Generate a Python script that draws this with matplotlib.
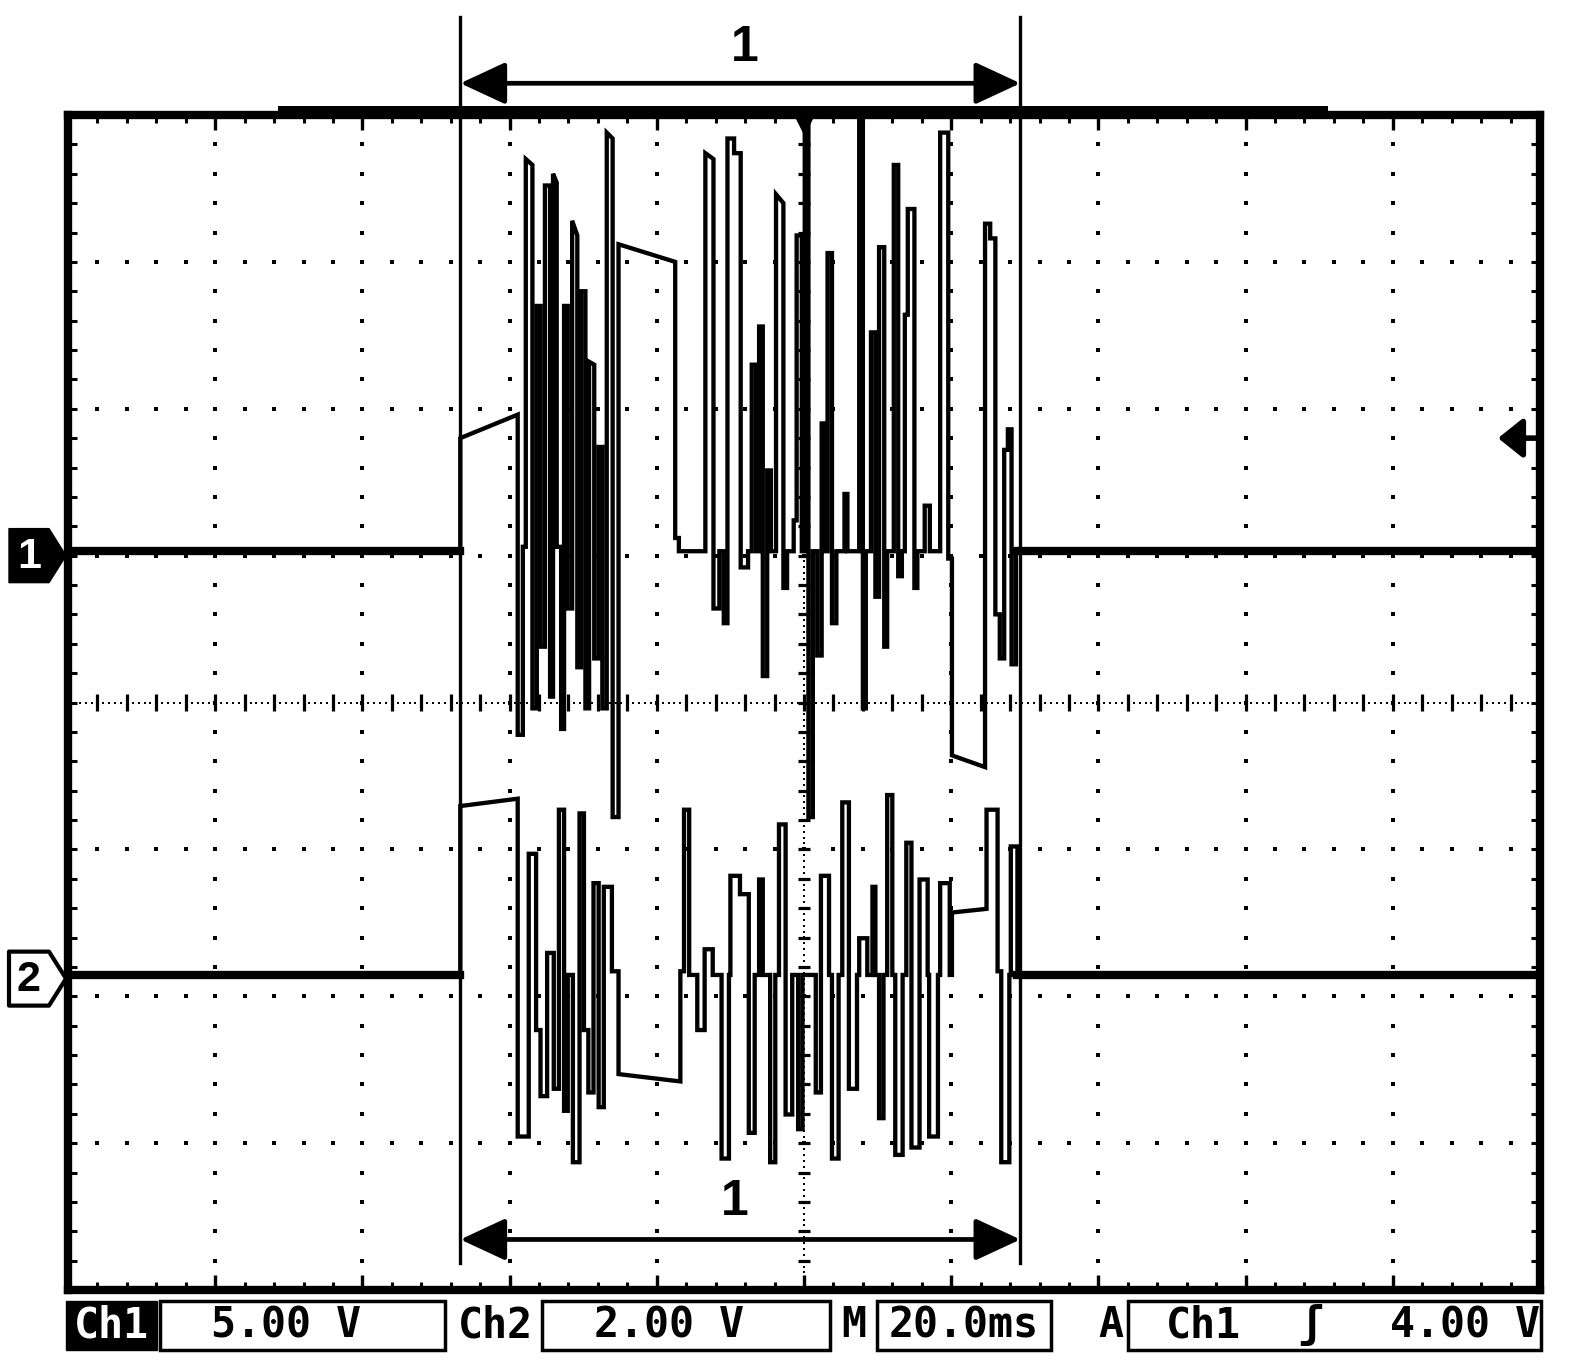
import matplotlib
matplotlib.use("Agg")
import matplotlib.pyplot as plt
import numpy as np
from matplotlib.patches import Rectangle, Polygon
from matplotlib.transforms import IdentityTransform, blended_transform_factory

time_per_div_ms = 20.0
ch1_volts_per_div = 5.0
ch2_volts_per_div = 2.0
ch1_position_div = 1.0
ch2_position_div = -1.88
cursor_times_ms = [53.3, 129.4]
trigger_time_ms = 100.0
trigger_level_v = 4.00

ch1_time_ms = [0.3, 53.3, 53.3, 61.1, 61.1, 61.8, 61.8, 62.2, 62.2, 63.1, 63.1, 63.7, 63.7, 64.2, 64.2,
               64.8, 64.8, 65.5, 65.5, 65.9, 65.9, 66.4, 66.4, 67.0, 67.0, 67.4, 67.4, 67.9, 67.9, 68.5,
               68.5, 69.2, 69.2, 69.7, 69.7, 70.3, 70.3, 70.8, 70.8, 71.5, 71.5, 72.1, 72.1, 72.6, 72.6,
               73.2, 73.2, 74.0, 74.0, 74.8, 74.8, 82.5, 82.5, 83.0, 83.0, 86.6, 86.6, 87.7, 87.7, 88.5,
               88.5, 89.1, 89.1, 89.6, 89.6, 90.5, 90.5, 91.4, 91.4, 92.4, 92.4, 92.9, 92.9, 93.5, 93.5,
               93.9, 93.9, 94.4, 94.4, 95.0, 95.0, 95.5, 95.5, 96.2, 96.2, 97.2, 97.2, 97.7, 97.7, 98.6,
               98.6, 99.0, 99.0, 99.7, 99.7, 100.1, 100.1, 100.6, 100.6, 101.2, 101.2, 101.8, 101.8, 102.4,
               102.4, 102.9, 102.9, 103.2, 103.2, 103.8, 103.8, 104.4, 104.4, 105.5, 105.5, 105.9, 105.9,
               107.5, 107.5, 108.0, 108.0, 108.4, 108.4, 109.1, 109.1, 109.7, 109.7, 110.2, 110.2, 110.9,
               110.9, 111.3, 111.3, 112.2, 112.2, 112.8, 112.8, 113.3, 113.3, 113.7, 113.7, 114.1, 114.1,
               115.0, 115.0, 115.4, 115.4, 116.4, 116.4, 117.1, 117.1, 118.5, 118.5, 119.6, 119.6, 120.1,
               120.1, 124.6, 124.6, 125.3, 125.3, 126.0, 126.0, 126.6, 126.6, 127.2, 127.2, 127.7, 127.7,
               128.2, 128.2, 128.8, 128.8, 199.7]
ch1_volts = [0.15, 0.15, 4.0, 4.8, -6.1, -6.1, 0.3, 0.3, 13.5, 13.3, -5.2, -5.2, 8.5, 8.5, -3.1,
             -3.1, 12.6, 12.6, -4.8, -4.8, 13.0, 12.7, 0.3, 0.3, -5.9, -5.9, 8.5, 8.5, -1.8, -1.8,
             11.4, 10.9, -3.8, -3.8, 9.0, 9.0, -5.2, -5.2, 6.6, 6.5, -3.5, -3.5, 3.7, 3.7, -5.2,
             -5.2, 14.4, 14.2, -8.9, -8.9, 10.6, 10.0, 0.6, 0.6, 0.15, 0.15, 13.7, 13.5, -1.8, -1.8,
             0.15, 0.15, -2.3, -2.3, 14.2, 14.2, 13.7, 13.7, -0.4, -0.4, 0.15, 0.15, 6.5, 6.5, 0.15,
             0.15, 7.8, 7.8, -4.1, -4.1, 2.9, 2.9, 0.15, 0.15, 12.3, 12.0, -1.1, -1.1, 0.15, 0.15,
             1.2, 1.2, 10.9, 10.9, 0.15, 0.15, 14.7, 14.7, -8.9, -8.9, 0.15, 0.15, -3.4, -3.4,
             4.5, 4.5, 0.15, 0.15, 10.3, 10.3, -2.3, -2.3, 0.15, 0.15, 2.1, 2.1, 0.15,
             0.15, 14.8, 14.8, -5.2, -5.2, 0.15, 0.15, 7.6, 7.6, -1.4, -1.4, 10.5, 10.5,
             -3.1, -3.1, 0.15, 0.15, 13.3, 13.3, -0.7, -0.7, 0.15, 0.15, 8.2, 8.2, 11.8,
             11.8, -1.1, -1.1, 0.15, 0.15, 1.7, 1.7, 0.15, 0.15, 14.4, 14.4, -0.1, -0.1,
             -6.8, -7.2, 11.3, 11.3, 10.8, 10.8, -2.0, -2.0, -3.5, -3.5, 3.6, 3.6, 4.3,
             4.3, -3.7, -3.7, 0.15, 0.15]

ch2_time_ms = [0.3, 53.3, 53.3, 61.1, 61.1, 62.6, 62.6, 63.6, 63.6, 64.2, 64.2, 65.1, 65.1, 66.0, 66.0,
               66.7, 66.7, 67.4, 67.4, 67.9, 67.9, 68.6, 68.6, 69.5, 69.5, 70.1, 70.1, 70.7, 70.7, 71.4,
               71.4, 72.1, 72.1, 72.8, 72.8, 73.9, 73.9, 74.8, 74.8, 83.2, 83.2, 83.7, 83.7, 84.4, 84.4,
               85.5, 85.5, 86.5, 86.5, 87.6, 87.6, 88.8, 88.8, 89.8, 89.8, 90.0, 90.0, 91.3, 91.3, 92.5,
               92.5, 93.3, 93.3, 93.9, 93.9, 94.4, 94.4, 95.4, 95.4, 96.1, 96.1, 96.6, 96.6, 97.5, 97.5,
               98.4, 98.4, 99.2, 99.2, 99.8, 99.8, 101.6, 101.6, 102.3, 102.3, 103.4, 103.4, 103.8, 103.8,
               104.7, 104.7, 105.2, 105.2, 106.1, 106.1, 107.2, 107.2, 107.5, 107.5, 108.6, 108.6, 109.3,
               109.3, 109.7, 109.7, 110.2, 110.2, 110.8, 110.8, 111.3, 111.3, 112.0, 112.0, 112.4, 112.4,
               113.4, 113.4, 113.9, 113.9, 114.6, 114.6, 115.7, 115.7, 116.8, 116.8, 117.0, 117.0, 118.2,
               118.2, 118.5, 118.5, 119.8, 119.8, 120.1, 120.1, 124.8, 124.8, 126.3, 126.3, 126.8, 126.8,
               127.9, 127.9, 128.1, 128.1, 129.0, 129.0, 199.7]
ch2_volts = [0.05, 0.05, 2.35, 2.45, -2.15, -2.15, 1.7, 1.7, -0.7, -0.7, -1.6, -1.6, 0.35, 0.35, -1.5,
             -1.5, 2.3, 2.3, -1.8, -1.8, 0.05, 0.05, -2.5, -2.5, 2.25, 2.25, -0.7, -0.7, -1.55, -1.55,
             1.3, 1.3, -1.75, -1.75, 1.25, 1.25, 0.1, 0.1, -1.3, -1.4, 0.1, 0.1, 2.3, 2.3, 0.05,
             0.05, -0.7, -0.7, 0.4, 0.4, 0.05, 0.05, -2.45, -2.45, 0.05, 0.05, 1.4, 1.4, 1.15, 1.15,
             -2.1, -2.1, 0.05, 0.05, 1.35, 1.35, 0.05, 0.05, -2.5, -2.5, 0.05, 0.05, 2.1, 2.1, -1.85,
             -1.85, 0.05, 0.05, -2.05, -2.05, 0.05, 0.05, -1.55, -1.55, 1.4, 1.4, 0.05, 0.05, -2.45,
             -2.45, 0.05, 0.05, 2.4, 2.4, -1.5, -1.5, 0.05, 0.05, 0.55, 0.55, 0.05, 0.05,
             1.25, 1.25, 0.05, 0.05, -1.9, -1.9, 0.05, 0.05, 2.5, 2.5, 0.05, 0.05, -2.4,
             -2.4, 0.05, 0.05, 1.85, 1.85, -2.3, -2.3, 1.35, 1.35, 0.05, 0.05, -2.15, -2.15,
             0.05, 0.05, 1.3, 1.3, 0.05, 0.05, 0.9, 0.95, 2.3, 2.3, 0.1, 0.1, -2.5,
             -2.5, 0.05, 0.05, 1.8, 1.8, 0.05, 0.05]

status_fields = ["Ch1", "5.00 V", "Ch2", "2.00 V", "M", "20.0ms", "A", "Ch1", "\u0283", "4.00 V"]
cursor_label = "1"

# ---------------- figure / layout ----------------
W, H = 1584, 1366
fig = plt.figure(figsize=(W / 100, H / 100), dpi=100)
fig.patch.set_facecolor("white")

PL, PR, PT, PB = 68, 1540, 115, 1290  # plot frame in pixels (from top-left)
rect = [PL / W, 1 - PB / H, (PR - PL) / W, (PB - PT) / H]
N_XDIV, N_YDIV = 10, 8

def fp(x, y):
    return (x / W, 1 - y / H)

# graticule axes (divisions)
ax = fig.add_axes(rect)
ax.set_xlim(0, N_XDIV)
ax.set_ylim(-N_YDIV / 2, N_YDIV / 2)
ax.set_xticks([]); ax.set_yticks([])
for s in ax.spines.values():
    s.set_linewidth(6)
    s.set_color("black")

xminor = np.round(np.arange(0.2, N_XDIV, 0.2), 2)
yminor = np.round(np.arange(-3.8, 4.0, 0.2), 2)
dot = dict(ls="none", marker="s", ms=2.7, color="black", mew=0)
for gx in range(1, N_XDIV):
    if gx == 5:
        continue
    ax.plot(np.full_like(yminor, gx), yminor, **dot)
for gy in range(-3, 4):
    if gy == 0:
        continue
    ax.plot(xminor, np.full_like(xminor, gy), **dot)

# centre cross: dense dots plus ticks
xd = np.arange(0.04, N_XDIV, 0.04)
yd = np.arange(-3.96, 4.0, 0.04)
ax.plot(xd, np.zeros_like(xd), ls="none", marker="s", ms=1.9, color="black", mew=0)
ax.plot(np.full_like(yd, 5.0), yd, ls="none", marker="s", ms=1.9, color="black", mew=0)
ax.vlines(xminor, -0.055, 0.055, color="black", lw=2.3)
ax.hlines(yminor, 4.96, 5.04, color="black", lw=2.3)

# border ticks
ax.vlines(xminor, 4 - 0.055, 4, color="black", lw=2.2)
ax.vlines(xminor, -4, -4 + 0.055, color="black", lw=2.2)
ax.vlines(np.arange(1, 10), 4 - 0.1, 4, color="black", lw=2.4)
ax.vlines(np.arange(1, 10), -4, -4 + 0.1, color="black", lw=2.4)
ax.hlines(yminor, 0, 0.06, color="black", lw=2.2)
ax.hlines(yminor, 10 - 0.06, 10, color="black", lw=2.2)

# channel axes (physical units)
x_range = (0, N_XDIV * time_per_div_ms)
a1 = fig.add_axes(rect)
a1.set_xlim(*x_range)
a1.set_ylim((-4 - ch1_position_div) * ch1_volts_per_div, (4 - ch1_position_div) * ch1_volts_per_div)
a1.axis("off")
a2 = fig.add_axes(rect)
a2.set_xlim(*x_range)
a2.set_ylim((-4 - ch2_position_div) * ch2_volts_per_div, (4 - ch2_position_div) * ch2_volts_per_div)
a2.axis("off")
for a in (a1, a2):
    a.patch.set_alpha(0)

trace = dict(color="black", lw=3.1, solid_joinstyle="miter")
a1.plot(ch1_time_ms, ch1_volts, **trace)
a2.plot(ch2_time_ms, ch2_volts, **trace)
# thicker, noisy-looking idle baselines
for a, t, v in ((a1, ch1_time_ms, ch1_volts), (a2, ch2_time_ms, ch2_volts)):
    a.plot(t[:2], v[:2], color="black", lw=6)
    a.plot(t[-2:], v[-2:], color="black", lw=6)

# cursors
btr = blended_transform_factory(a1.transData, a1.transAxes)
for ct in cursor_times_ms:
    a1.plot([ct, ct], [0.023, 1.083], transform=btr, color="black", lw=2.4, clip_on=False)
for yfrac in (1.027, 0.043):
    a1.annotate("", xy=(cursor_times_ms[1], yfrac), xytext=(cursor_times_ms[0], yfrac),
                xycoords=btr, textcoords=btr, annotation_clip=False,
                arrowprops=dict(arrowstyle="<|-|>,head_length=1.4,head_width=0.65",
                                mutation_scale=20, lw=3.4, color="black", shrinkA=0, shrinkB=0))
a1.text(92.0, 1.057, cursor_label, transform=btr, ha="center", va="center",
        fontsize=36, fontweight="bold", family="Liberation Sans")
a1.text(90.6, 0.075, cursor_label, transform=btr, ha="center", va="center",
        fontsize=36, fontweight="bold", family="Liberation Sans")

# trigger position marker (top) and trigger level marker (right)
a1.plot([trigger_time_ms], [0.991], transform=btr, marker="v", ms=11, color="black", clip_on=False)
a1.annotate("", xy=(0.9715, trigger_level_v), xytext=(0.998, trigger_level_v),
            xycoords=("axes fraction", "data"), textcoords=("axes fraction", "data"),
            arrowprops=dict(arrowstyle="-|>,head_length=0.75,head_width=0.6",
                            mutation_scale=20, lw=4, color="black", shrinkA=0, shrinkB=0))

# raised part of the top frame
fig.add_artist(Rectangle(fp(278, 114), (1328 - 278) / W, 8 / H, transform=fig.transFigure,
                         facecolor="black", edgecolor="none"))

# channel ground markers at left
idt = IdentityTransform()
for a, label, filled in ((a1, "1", True), (a2, "2", False)):
    y0 = a.transData.transform((0, 0))[1]
    pts = [(9, y0 + 27), (49, y0 + 27), (66, y0), (49, y0 - 27), (9, y0 - 27)]
    fig.add_artist(Polygon(pts, closed=True, transform=idt,
                           facecolor="black" if filled else "white",
                           edgecolor="black", lw=3 if not filled else 1, joinstyle="round"))
    fig.text(29, y0 - 1, label, transform=idt, ha="center", va="center",
             color="white" if filled else "black", fontsize=31, fontweight="bold",
             family="Liberation Sans")

# status bar
BY0, BY1 = 1301, 1350
fig.add_artist(Rectangle(fp(66, BY1), (157 - 66) / W, (BY1 - BY0) / H, transform=fig.transFigure,
                         facecolor="black", edgecolor="black"))
for x0, x1 in ((160, 445), (542, 830), (877, 1051), (1128, 1541)):
    fig.add_artist(Rectangle(fp(x0, BY1), (x1 - x0) / W, (BY1 - BY0) / H, transform=fig.transFigure,
                             facecolor="none", edgecolor="black", lw=2.5))
status_x = [111, 286, 495, 669, 854, 964, 1111, 1203, 1311, 1465]
font_status = dict(fontsize=30, fontweight="bold", family=["DejaVu Sans Mono", "DejaVu Sans"],
                   ha="center", va="center")
for i, (txt, x) in enumerate(zip(status_fields, status_x)):
    fig.text(*fp(x, 1325), txt, color="white" if i == 0 else "black", **font_status)

fig.savefig("out.png", dpi=100, facecolor="white")
